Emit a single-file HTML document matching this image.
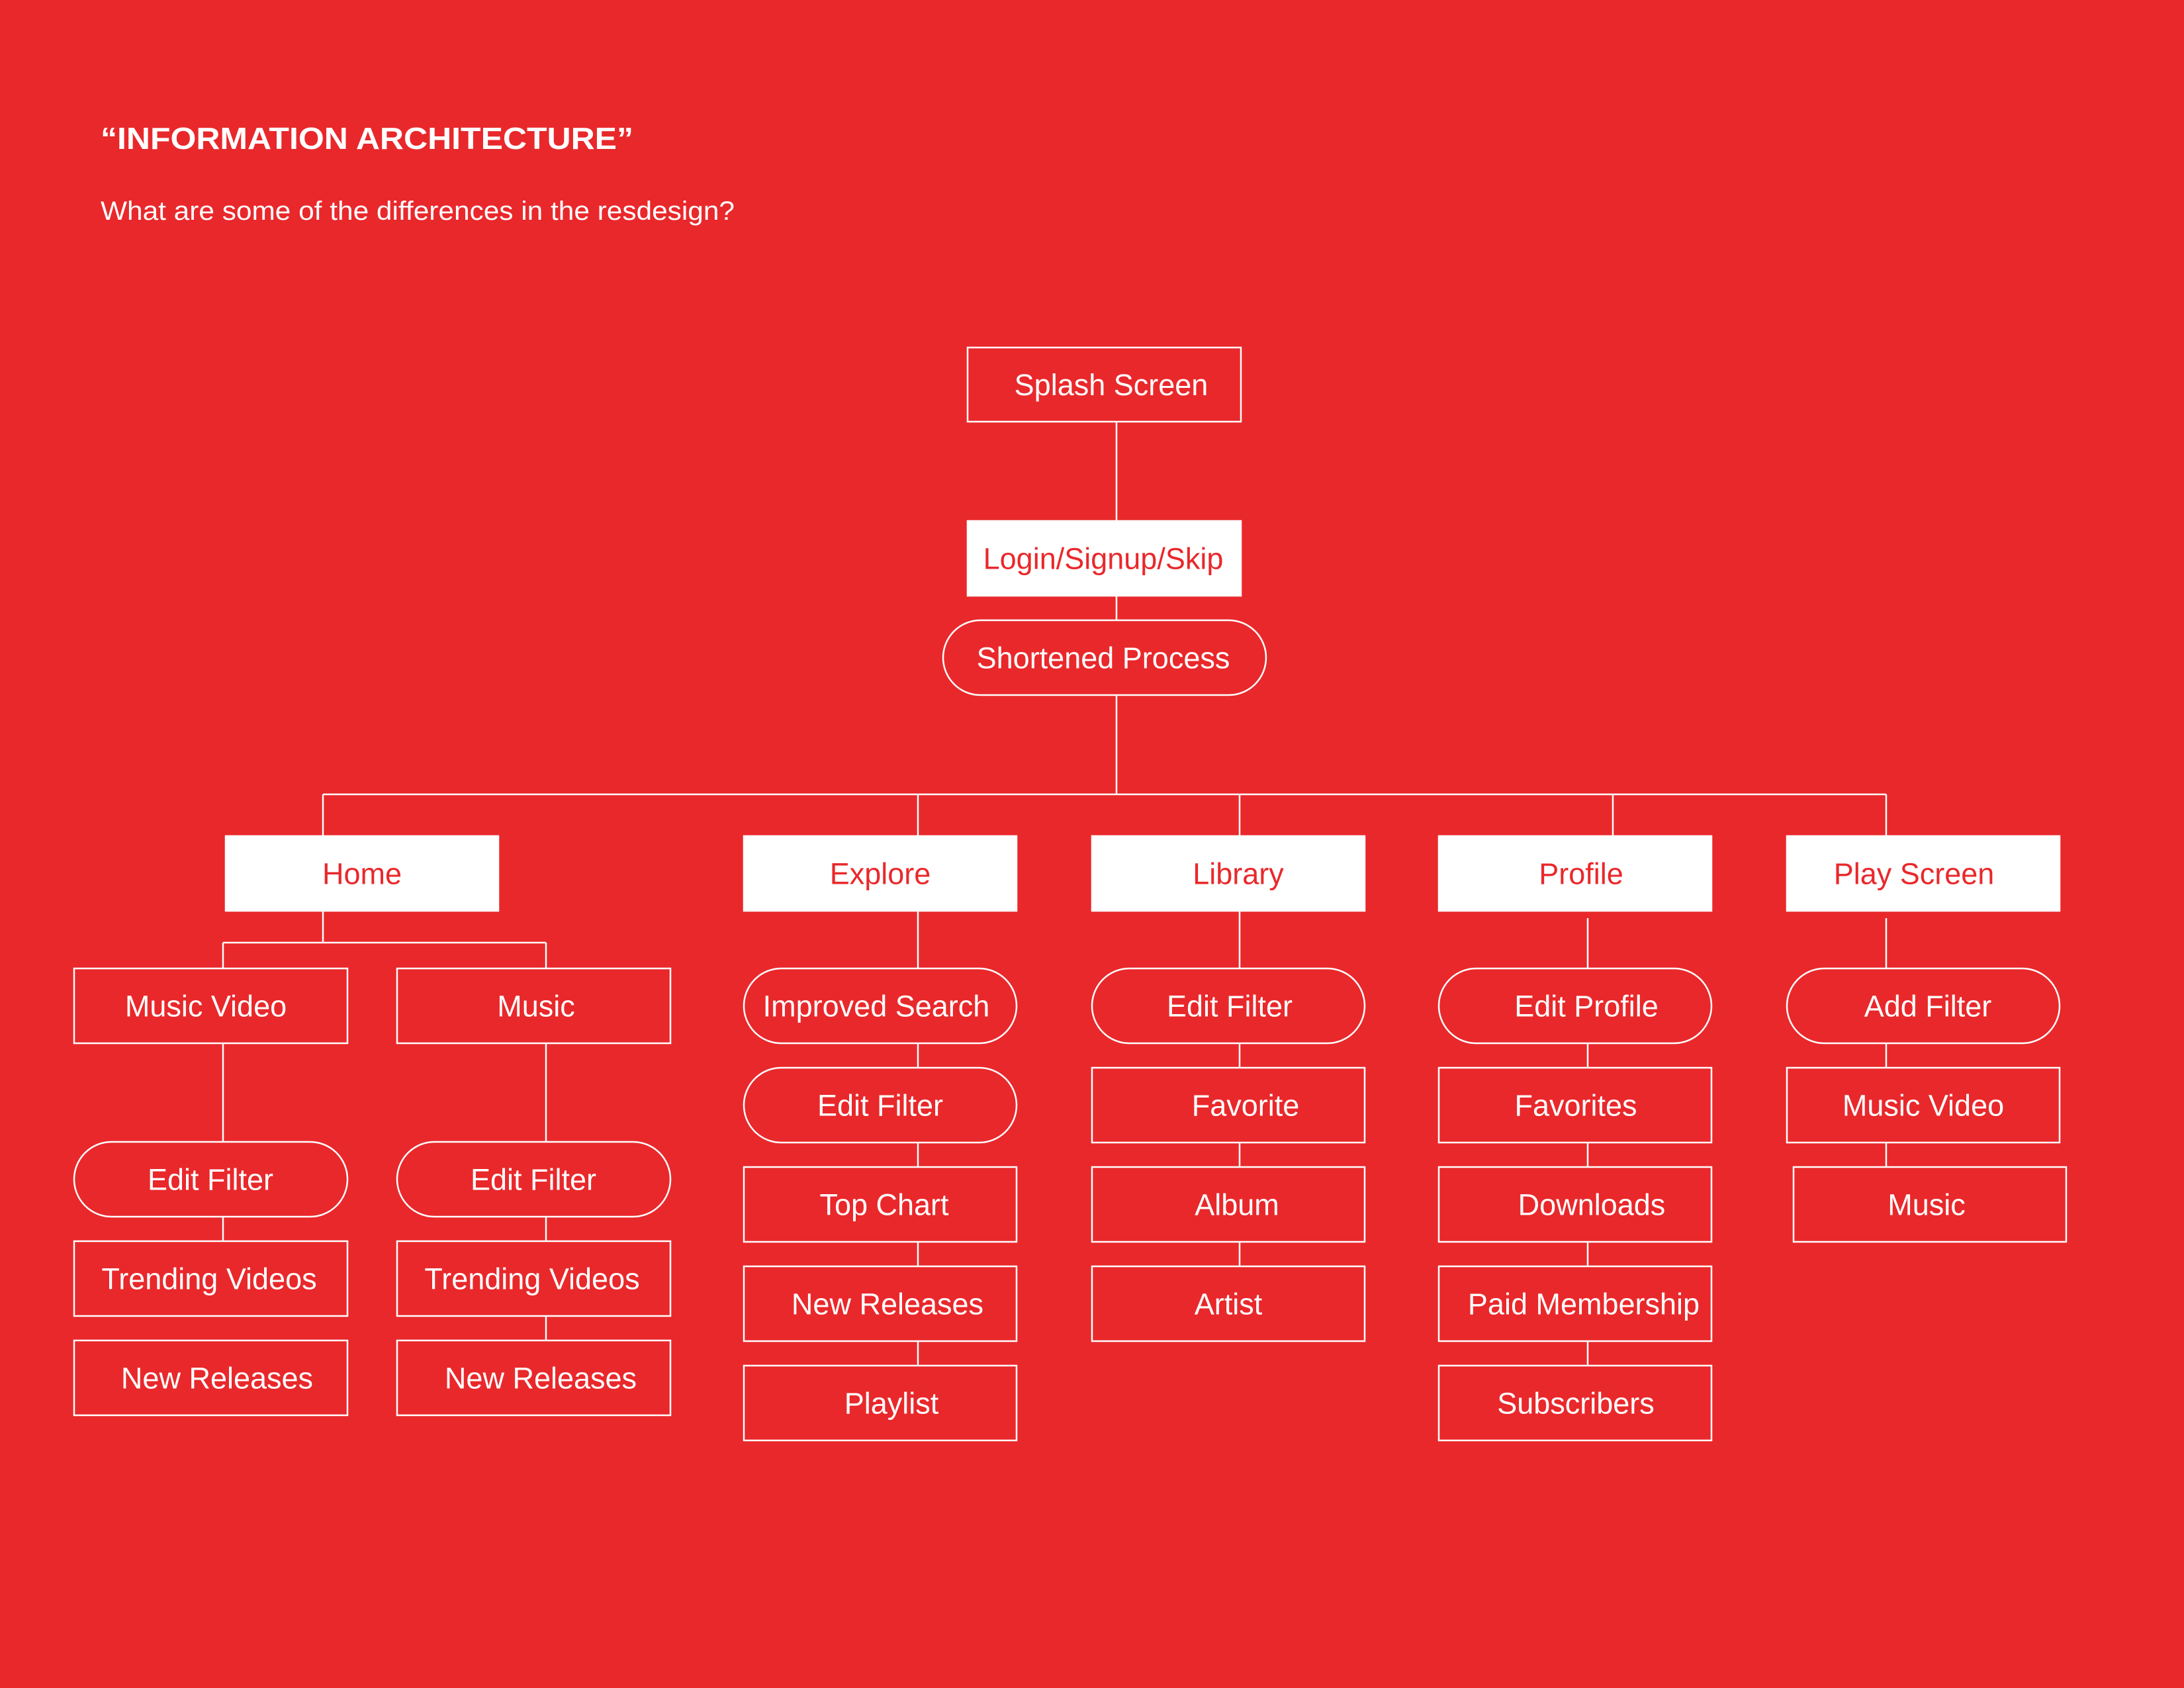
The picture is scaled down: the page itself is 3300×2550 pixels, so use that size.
<!DOCTYPE html>
<html><head><meta charset="utf-8">
<style>
html,body{margin:0;padding:0;background:#E9282B;}
svg{display:block;}
text{font-family:"Liberation Sans",sans-serif;}
</style></head>
<body>
<svg id="ia" width="3300" height="2550" viewBox="0 0 3300 2550" xmlns="http://www.w3.org/2000/svg">
<rect x="0" y="0" width="3300" height="2550" fill="#E9282B"/>
<text x="152" y="225" font-size="46" font-weight="bold" fill="#fff" textLength="805" lengthAdjust="spacingAndGlyphs">“INFORMATION ARCHITECTURE”</text>
<text x="152" y="332" font-size="40" fill="#fff" textLength="958" lengthAdjust="spacingAndGlyphs">What are some of the differences in the resdesign?</text>
<g id="lines" stroke="#fff" stroke-width="2.5" fill="none"></g>
<g id="nodes"></g>
</svg>
<script>
// nodes: x, y, label, kind (f=filled, r=rect, p=pill), text center x
const nodeX = [1462,1462,1425, 341,1124,1650,2174,2700, 112,600, 112,600,112,600,112,600, 1124,1124,1124,1124,1124, 1650,1650,1650,1650, 2174,2174,2174,2174,2174, 2700,2700,2710];
const nodeY = [525,787,937, 1263,1263,1263,1263,1263, 1463,1463, 1725,1725,1875,1875,2025,2025, 1463,1613,1763,1913,2063, 1463,1613,1763,1913, 1463,1613,1763,1913,2063, 1463,1613,1763];
const nodeW = [413,413,488, 412,412,412,412,412, 413,413,413,413,413,413,413,413, 412,412,412,412,412, 412,412,412,412, 412,412,412,412,412, 412,412,412];
const nodeH = [112,113,113, 113,113,113,113,113, 113,113,113,113,113,113,113,113, 113,113,113,113,113, 113,113,113,113, 113,113,113,113,113, 113,113,113];
const nodeLabels = ["Splash Screen","Login/Signup/Skip","Shortened Process","Home","Explore","Library","Profile","Play Screen","Music Video","Music","Edit Filter","Edit Filter","Trending Videos","Trending Videos","New Releases","New Releases","Improved Search","Edit Filter","Top Chart","New Releases","Playlist","Edit Filter","Favorite","Album","Artist","Edit Profile","Favorites","Downloads","Paid Membership","Subscribers","Add Filter","Music Video","Music"];
const nodeKinds = ["r","f","p","f","f","f","f","f","r","r","p","p","r","r","r","r","p","p","r","r","r","p","r","r","r","p","r","r","r","r","p","r","r"];
const textCX = [1679,1667,1667,547,1330,1871,2389,2892,311,810,318,806,316,804,328,817,1324,1330,1336,1341,1347,1858,1882,1869,1856,2397,2381,2405,2393,2381,2913,2906,2911];
// connectors: x1,y1,x2,y2
const lineSegs = [
 [1687,637,1687,787],[1687,900,1687,937],[1687,1050,1687,1200],
 [488,1200,2850,1200],
 [488,1200,488,1263],[1387,1200,1387,1263],[1873,1200,1873,1263],[2437,1200,2437,1263],[2850,1200,2850,1263],
 [488,1376,488,1424],[337,1424,825,1424],[337,1424,337,1463],[825,1424,825,1463],
 [337,1576,337,1725],[825,1576,825,1725],[337,1838,337,1875],[825,1838,825,1875],[825,1988,825,2025],
 [1387,1376,1387,1463],[1387,1576,1387,1613],[1387,1726,1387,1763],[1387,1876,1387,1913],[1387,2026,1387,2063],
 [1873,1376,1873,1463],[1873,1576,1873,1613],[1873,1726,1873,1763],[1873,1876,1873,1913],
 [2399,1387,2399,1463],[2399,1576,2399,1613],[2399,1726,2399,1763],[2399,1876,2399,1913],[2399,2026,2399,2063],
 [2850,1387,2850,1463],[2850,1576,2850,1613],[2850,1726,2850,1763]
];
const NS="http://www.w3.org/2000/svg";
const lg=document.getElementById('lines');
lineSegs.forEach(s=>{
  const l=document.createElementNS(NS,'line');
  l.setAttribute('x1',s[0]);l.setAttribute('y1',s[1]);l.setAttribute('x2',s[2]);l.setAttribute('y2',s[3]);
  
  
  lg.appendChild(l);
});
const ng=document.getElementById('nodes');
nodeLabels.forEach((lab,i)=>{
  const g=document.createElementNS(NS,'g');
  
  
  const r=document.createElementNS(NS,'rect');
  const k=nodeKinds[i];
  r.setAttribute('x',nodeX[i]);r.setAttribute('y',nodeY[i]);
  r.setAttribute('width',nodeW[i]);r.setAttribute('height',nodeH[i]);
  if(k==='p'){r.setAttribute('rx',nodeH[i]/2);r.setAttribute('ry',nodeH[i]/2);}
  r.setAttribute('fill',k==='f'?'#fff':'#E9282B');
  r.setAttribute('stroke','#fff');r.setAttribute('stroke-width','2.5');
  
  
  g.appendChild(r);
  const t=document.createElementNS(NS,'text');
  t.setAttribute('x',textCX[i]);t.setAttribute('y',nodeY[i]+nodeH[i]/2+16);
  t.setAttribute('text-anchor','middle');t.setAttribute('font-size','45');
  t.setAttribute('fill',k==='f'?'#E9282B':'#fff');
  t.textContent=lab;
  
  
  g.appendChild(t);
  ng.appendChild(g);
});
</script>
</body></html>
